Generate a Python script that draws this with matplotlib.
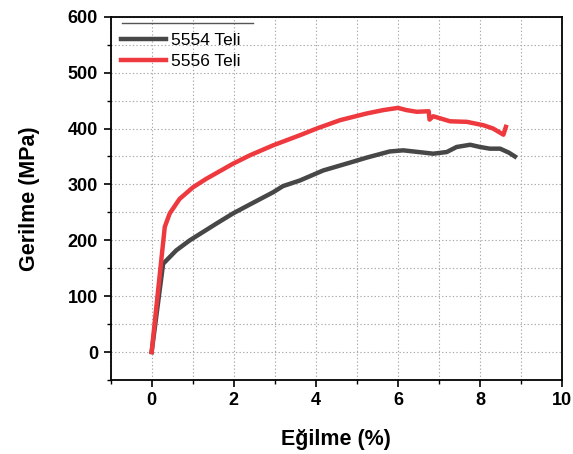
import matplotlib.pyplot as plt
from matplotlib.ticker import MultipleLocator
from matplotlib.lines import Line2D

plt.rcParams['font.family'] = ['Liberation Sans', 'DejaVu Sans']

# 5554 Teli
strain_5554 = [0, 0.28, 0.60, 0.93, 1.58, 1.98, 2.39, 2.96, 3.20, 3.61, 4.18, 4.83, 5.24,
               5.80, 6.13, 6.50, 6.86, 7.19, 7.43, 7.76, 8.00, 8.24, 8.49, 8.70, 8.85]
stress_5554 = [0, 158, 182, 200, 230, 248, 264, 286, 297, 307, 325, 339, 348,
               359, 361, 358, 355, 358, 367, 371, 367, 364, 364, 357, 350]

# 5556 Teli
strain_5556 = [0, 0.32, 0.44, 0.68, 1.01, 1.33, 1.98, 2.39, 2.96, 3.61, 4.02, 4.59, 5.24,
               5.64, 6.00, 6.21, 6.46, 6.75, 6.77, 6.86, 7.27, 7.68, 8.08, 8.32, 8.57, 8.63]
stress_5556 = [0, 224, 248, 274, 295, 310, 337, 352, 370, 388, 400, 415, 427,
               433, 437, 433, 430, 431, 416, 422, 413, 412, 406, 400, 389, 403]

fig, ax = plt.subplots(figsize=(5.73, 4.54), dpi=100)
fig.subplots_adjust(left=0.193, right=0.981, top=0.963, bottom=0.163)

ax.plot(strain_5554, stress_5554, color='#474747', lw=3.2, label='5554 Teli', zorder=3)
ax.plot(strain_5556, stress_5556, color='#ee3a3f', lw=3.2, label='5556 Teli', zorder=3)

ax.set_xlim(-1, 10)
ax.set_ylim(-50, 600)
ax.xaxis.set_major_locator(MultipleLocator(2))
ax.xaxis.set_minor_locator(MultipleLocator(1))
ax.yaxis.set_major_locator(MultipleLocator(100))
ax.yaxis.set_minor_locator(MultipleLocator(50))
ax.grid(True, which='both', linestyle=(0, (1.2, 2)), color='#a8a8a8', lw=0.8)
ax.tick_params(which='major', direction='out', length=5, width=1.2, labelsize=13, pad=4)
ax.tick_params(which='minor', direction='out', length=3, width=1.0)
for lab in ax.get_xticklabels() + ax.get_yticklabels():
    lab.set_fontweight('bold')
for sp in ax.spines.values():
    sp.set_linewidth(1.3)

ax.set_xlabel('Eğilme (%)', fontsize=15.5, fontweight='bold', labelpad=14)
ax.set_ylabel('Gerilme (MPa)', fontsize=15.5, fontweight='bold', labelpad=20)

ax.legend(loc='upper left', bbox_to_anchor=(0.0, 0.985), frameon=False, fontsize=12.5,
          handlelength=2.6, handletextpad=0.3, borderaxespad=0.2, labelspacing=0.35)
ax.add_line(Line2D([0.025, 0.315], [0.982, 0.982], transform=ax.transAxes,
                   color='#555555', lw=1, zorder=4))

plt.savefig('out.png', dpi=100)
